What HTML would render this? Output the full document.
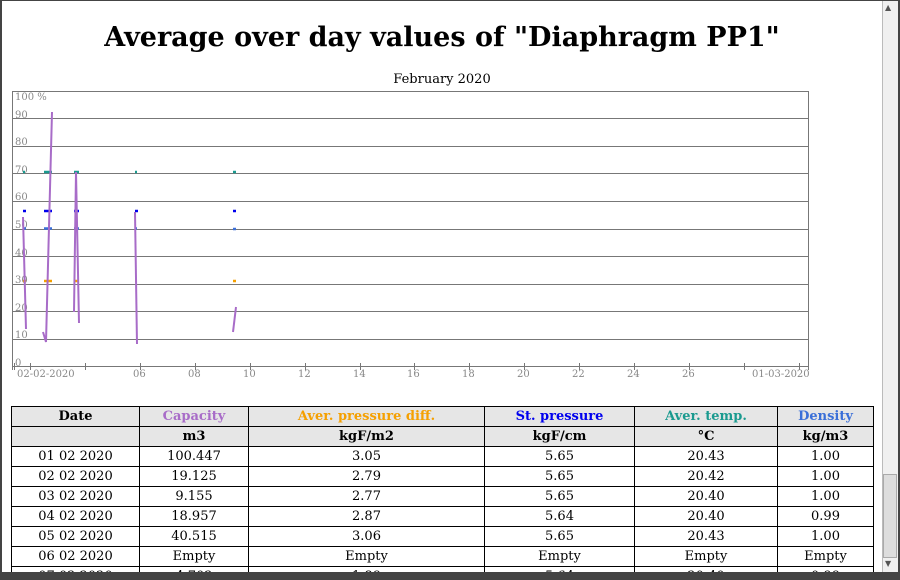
<!DOCTYPE html>
<html><head><meta charset="utf-8"><style>
*{margin:0;padding:0;box-sizing:border-box}
html,body{width:900px;height:580px;overflow:hidden}
body{background:#fff;font-family:"DejaVu Serif","Liberation Serif",serif;position:relative}
#clip{position:absolute;left:0;top:0;width:900px;height:572px;overflow:hidden}
#frame{position:absolute;left:0;top:0;width:900px;height:580px;border:2px solid #444;border-top:1px solid #444;border-bottom:8px solid #444;}
h1{position:absolute;left:0;width:884px;top:20px;text-align:center;font-size:27px;font-weight:bold;line-height:36px}
.sub{position:absolute;left:0;width:884px;top:72px;text-align:center;font-size:13px}
table{position:absolute;left:11px;top:406px;border-collapse:collapse;font-size:13px}
td{border:1px solid #000;height:20px;text-align:center;padding:0;line-height:18px}
tr.h td{background:#e6e6e6;font-weight:bold}
#sb{position:absolute;left:882px;top:1px;width:16px;height:571px;background:#f0f0f0;border-left:1px solid #bbb}
#th{position:absolute;left:883px;top:474px;width:14px;height:84px;background:#ddd;border:1px solid #aaa}
</style></head><body>
<div id="clip">
<h1>Average over day values of "Diaphragm PP1"</h1>
<div class="sub">February 2020</div>
<svg style="position:absolute;left:0;top:0" width="880" height="400" font-family="DejaVu Serif,serif" font-size="10" fill="#888">
<g stroke="#777" stroke-width="1">
<line x1="12" y1="91.5" x2="808" y2="91.5"/>
<line x1="12" y1="118.5" x2="808" y2="118.5"/>
<line x1="12" y1="146.5" x2="808" y2="146.5"/>
<line x1="12" y1="173.5" x2="808" y2="173.5"/>
<line x1="12" y1="201.5" x2="808" y2="201.5"/>
<line x1="12" y1="229.5" x2="808" y2="229.5"/>
<line x1="12" y1="256.5" x2="808" y2="256.5"/>
<line x1="12" y1="284.5" x2="808" y2="284.5"/>
<line x1="12" y1="311.5" x2="808" y2="311.5"/>
<line x1="12" y1="339.5" x2="808" y2="339.5"/>
<line x1="12" y1="366.5" x2="808" y2="366.5"/>
<line x1="12.5" y1="91" x2="12.5" y2="370"/>
<line x1="808.5" y1="91" x2="808.5" y2="370"/>
<path d="M30.5 363v7M85.5 363v7M140.5 363v7M195.5 363v7M250.5 363v7M305.5 363v7M360.5 363v7M414.5 363v7M469.5 363v7M524.5 363v7M579.5 363v7M634.5 363v7M689.5 363v7M744.5 363v7M799.5 363v7M14.5 363v7"/>
</g>
<text x="15" y="100">100 %</text>
<text x="15" y="118">90</text><text x="15" y="145">80</text><text x="15" y="173">70</text><text x="15" y="200">60</text><text x="15" y="228">50</text><text x="15" y="256">40</text><text x="15" y="283">30</text><text x="15" y="311">20</text><text x="15" y="338">10</text><text x="15" y="366">0</text>
<text x="17" y="377">02-02-2020</text>
<text x="133" y="377">06</text><text x="188" y="377">08</text><text x="243" y="377">10</text><text x="298" y="377">12</text><text x="353" y="377">14</text><text x="407" y="377">16</text><text x="462" y="377">18</text><text x="517" y="377">20</text><text x="572" y="377">22</text><text x="627" y="377">24</text><text x="682" y="377">26</text><text x="752" y="377">01-03-2020</text>
<g stroke-width="2.5">
<path stroke="#1a9a8f" d="M23 172h2M44 172h8M74 172h5M135 172h2M233 172h3"/>
<path stroke="#0000ee" d="M23 211h3M44 211h8M74 211h5M135 211h3M233 211h3"/>
<path stroke="#3a6fd8" d="M23 228.5h3M44 228.5h8M74 228.5h5M135 228.5h2M233 229h3"/>
<path stroke="#f5a000" d="M23 281h3M44 281h8M74 281h5M135 281h2M233 281h3"/>
</g>
<g stroke="#a86cc8" stroke-width="2" fill="none">
<path d="M23 217L26 329"/>
<path d="M43 332L46 342L52 112"/>
<path d="M74 312L76 172L79 323"/>
<path d="M135 212L137 344"/>
<path d="M233 332L236 307"/>
</g>
</svg>
<table>
<tr class="h"><td style="width:128px">Date</td><td style="width:109px;color:#a86cc8">Capacity</td><td style="width:236px;color:#f5a000">Aver. pressure diff.</td><td style="width:150px;color:#0000ee">St. pressure</td><td style="width:143px;color:#1a9a8f">Aver. temp.</td><td style="width:96px;color:#3a6fd8">Density</td></tr>
<tr class="h"><td></td><td>m3</td><td>kgF/m2</td><td>kgF/cm</td><td>°C</td><td>kg/m3</td></tr>
<tr><td>01 02 2020</td><td>100.447</td><td>3.05</td><td>5.65</td><td>20.43</td><td>1.00</td></tr>
<tr><td>02 02 2020</td><td>19.125</td><td>2.79</td><td>5.65</td><td>20.42</td><td>1.00</td></tr>
<tr><td>03 02 2020</td><td>9.155</td><td>2.77</td><td>5.65</td><td>20.40</td><td>1.00</td></tr>
<tr><td>04 02 2020</td><td>18.957</td><td>2.87</td><td>5.64</td><td>20.40</td><td>0.99</td></tr>
<tr><td>05 02 2020</td><td>40.515</td><td>3.06</td><td>5.65</td><td>20.43</td><td>1.00</td></tr>
<tr><td>06 02 2020</td><td>Empty</td><td>Empty</td><td>Empty</td><td>Empty</td><td>Empty</td></tr>
<tr><td>07 02 2020</td><td>4.702</td><td>1.89</td><td>5.64</td><td>20.40</td><td>0.99</td></tr>
</table>
<div id="sb"></div><div id="th"></div>
<div style="position:absolute;left:885px;top:3px;font-size:8px;color:#555">▲</div>
<div style="position:absolute;left:885px;top:559px;font-size:8px;color:#555">▼</div>
</div>
<div id="frame"></div>
</body></html>
